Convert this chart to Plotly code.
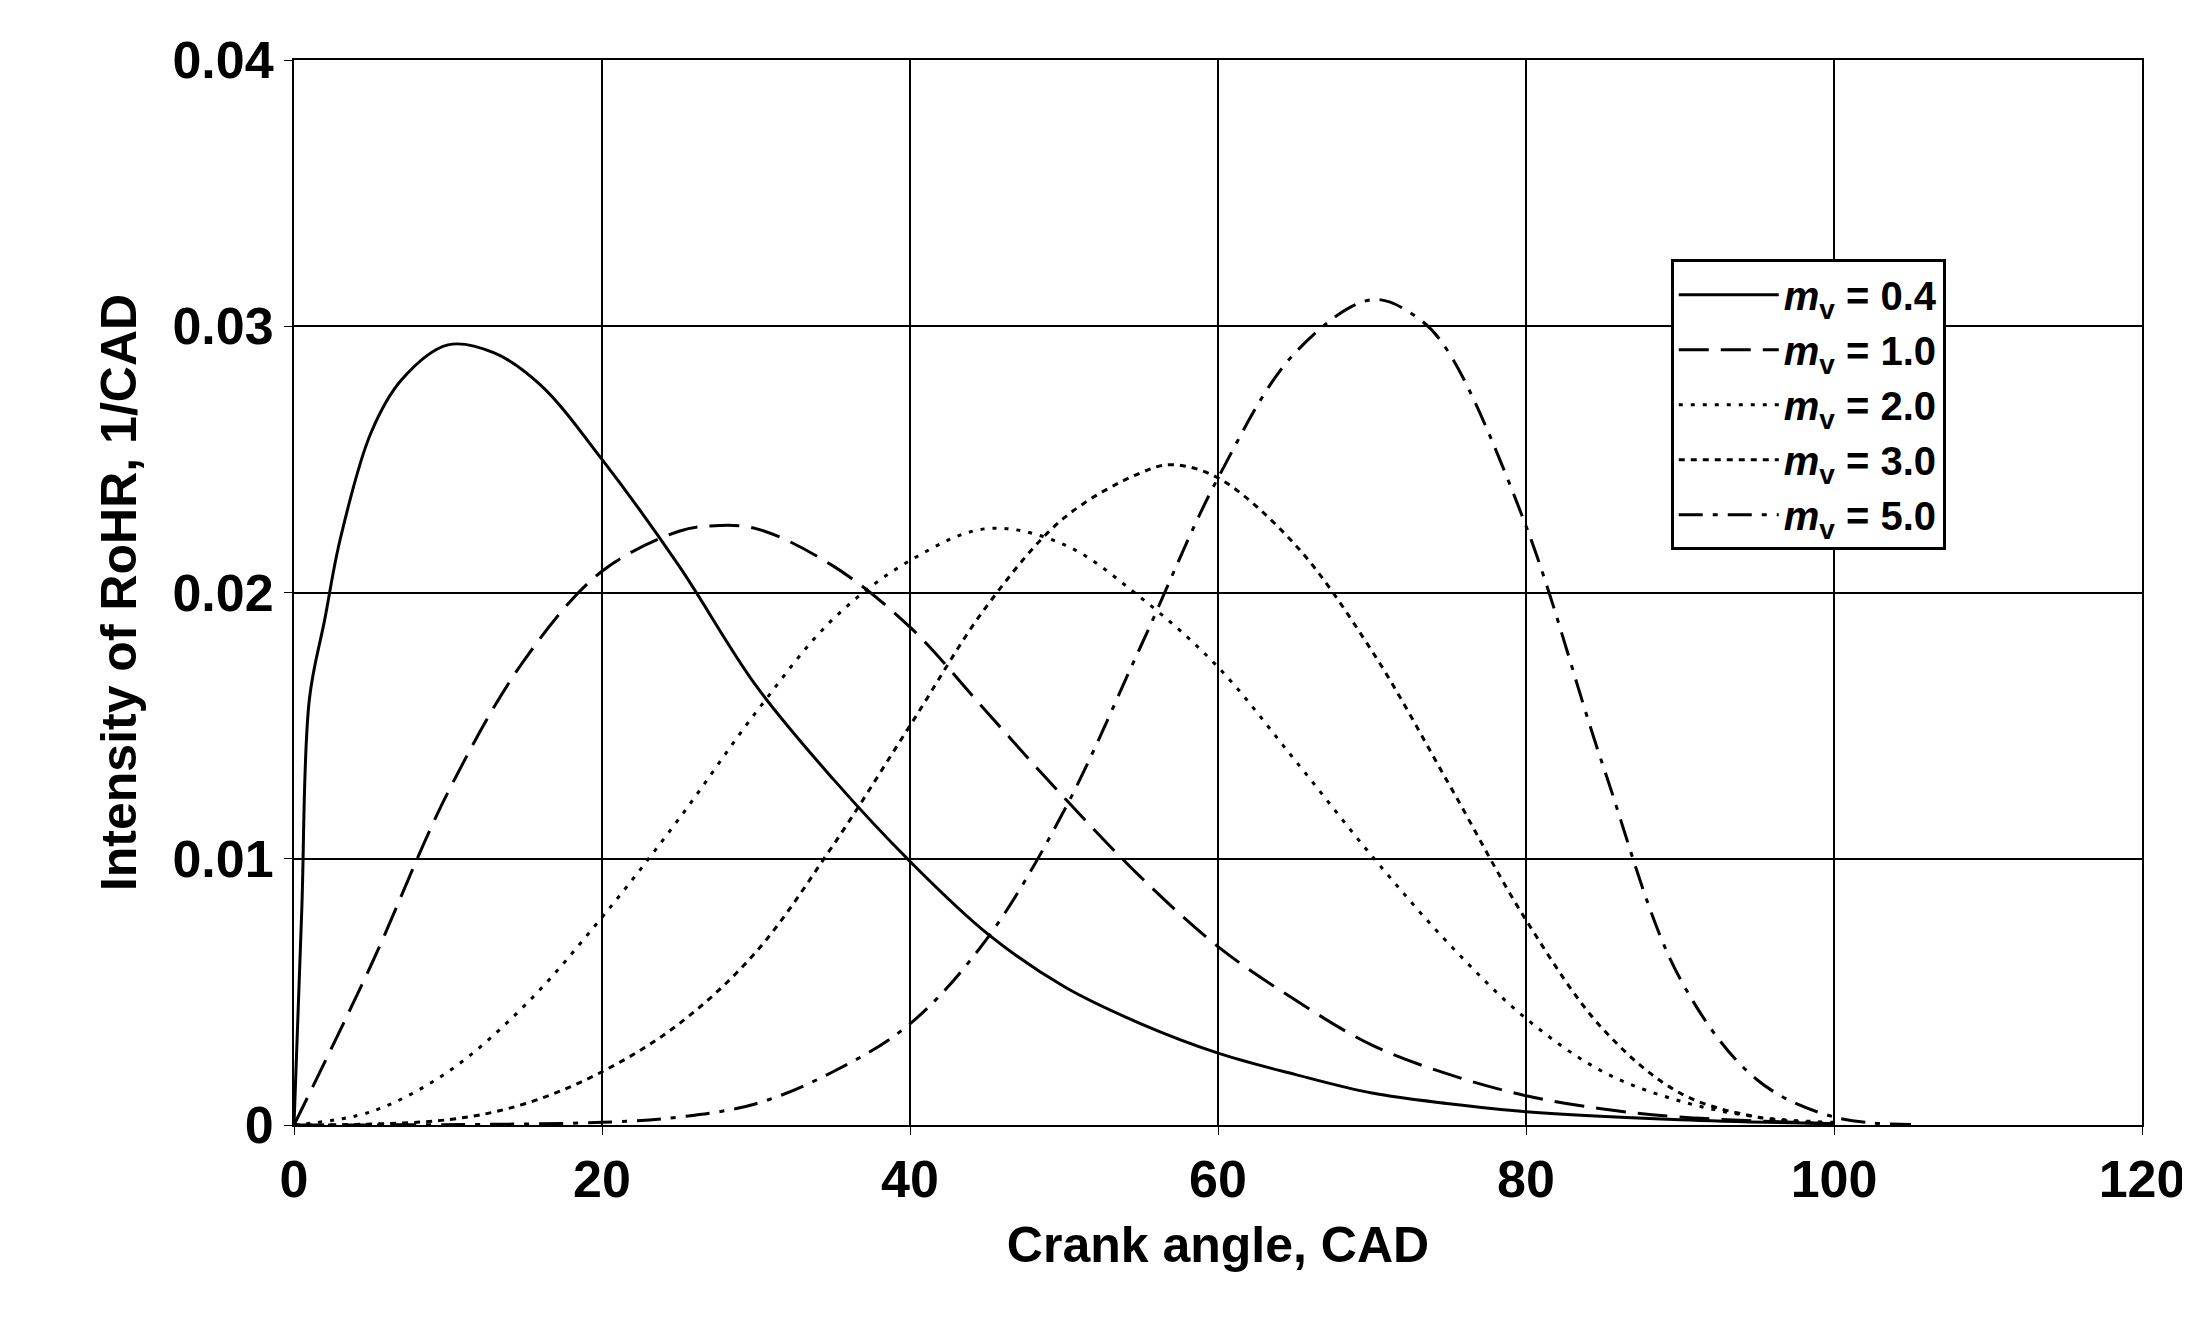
import plotly.graph_objects as go

# values
x04 = [0, 0.5, 1, 2, 3, 5, 7, 10, 13, 16, 20, 25, 30, 35, 40, 45, 50, 55, 60, 65, 70, 75, 80, 90, 100]
y04 = [0, 0.008, 0.016, 0.019, 0.022, 0.026, 0.028, 0.0293, 0.029, 0.0278, 0.025, 0.021, 0.0165, 0.013,
       0.0099, 0.0072, 0.0052, 0.0038, 0.0027, 0.0019, 0.0012, 0.0008, 0.0005, 0.0002, 0.00005]
x10 = [0, 5, 10, 15, 20, 25, 27, 30, 35, 40, 45, 50, 55, 60, 65, 70, 75, 80, 85, 90, 100]
y10 = [0, 0.006, 0.0125, 0.0175, 0.0208, 0.0223, 0.0225, 0.0224, 0.021, 0.0187, 0.0155, 0.0123, 0.0093,
       0.0067, 0.0047, 0.003, 0.0019, 0.0011, 0.0006, 0.0003, 0.00005]
x20 = [0, 5, 10, 15, 20, 25, 30, 35, 40, 45, 50, 55, 60, 65, 70, 75, 80, 85, 90, 95, 100]
y20 = [0, 0.0005, 0.002, 0.0045, 0.0078, 0.0115, 0.0155, 0.019, 0.0212, 0.0224, 0.0218, 0.0198, 0.0172,
       0.0137, 0.0101, 0.0068, 0.004, 0.002, 0.0009, 0.0003, 0.0001]
x30 = [0, 10, 15, 20, 25, 30, 35, 40, 45, 50, 55, 57, 60, 65, 70, 75, 80, 85, 90, 95, 100]
y30 = [0, 0.0002, 0.0008, 0.002, 0.0038, 0.0065, 0.0105, 0.015, 0.0195, 0.0228, 0.0245, 0.0248, 0.0243,
       0.0218, 0.0178, 0.0128, 0.0077, 0.0036, 0.0012, 0.0003, 0.00005]
x50 = [0, 20, 25, 30, 35, 40, 45, 50, 55, 60, 65, 70, 73, 75, 80, 85, 90, 95, 100, 105]
y50 = [0, 0.0001, 0.0003, 0.0008, 0.002, 0.0038, 0.007, 0.0118, 0.018, 0.0243, 0.029, 0.031, 0.0303,
       0.029, 0.0225, 0.0135, 0.0055, 0.0017, 0.0003, 0.00002]
xticks = [0, 20, 40, 60, 80, 100, 120]
yticks = [0, 0.01, 0.02, 0.03, 0.04]
ylabels = ["0", "0.01", "0.02", "0.03", "0.04"]

series = [
    ("0.4", x04, y04, "solid"),
    ("1.0", x10, y10, "30px,12px"),
    ("2.0", x20, y20, "4px,8px"),
    ("3.0", x30, y30, "6px,6px"),
    ("5.0", x50, y50, "24px,10px,5px,10px"),
]

fig = go.Figure()
for name, xs, ys, dash in series:
    fig.add_trace(go.Scatter(x=xs, y=ys, mode="lines", line_shape="spline",
                             name="<b><i>m</i><sub>v</sub> = " + name + "</b>",
                             line=dict(color="black", width=3, dash=dash)))

font = "Liberation Sans"
axis = dict(showgrid=True, gridcolor="black", gridwidth=1.5, showline=True, linecolor="black",
            linewidth=2, mirror=True, zeroline=False, ticks="outside", ticklen=8, tickcolor="black",
            tickfont=dict(family=font, size=52, color="black"))
fig.update_xaxes(axis, range=[0, 120], tickvals=xticks,
                 ticktext=["<b>%d</b>" % v for v in xticks],
                 title=dict(text="<b>Crank angle, CAD</b>", font=dict(family=font, size=50), standoff=20))
fig.update_yaxes(axis, range=[0, 0.04], tickvals=yticks,
                 ticktext=["<b>%s</b>" % t for t in ylabels],
                 title=dict(text="<b>Intensity of RoHR, 1/CAD</b>", font=dict(family=font, size=50), standoff=20))

fig.update_layout(
    width=2190, height=1321, plot_bgcolor="white", paper_bgcolor="white",
    margin=dict(l=286, r=56, t=52, b=204),
    font=dict(family=font, color="black"),
    legend=dict(x=0.745, y=0.813, xanchor="left", yanchor="top", bgcolor="white",
                bordercolor="black", borderwidth=3, tracegroupgap=0,
                font=dict(family=font, size=40, color="black"), itemwidth=100),
)
fig.write_html("out.html")
